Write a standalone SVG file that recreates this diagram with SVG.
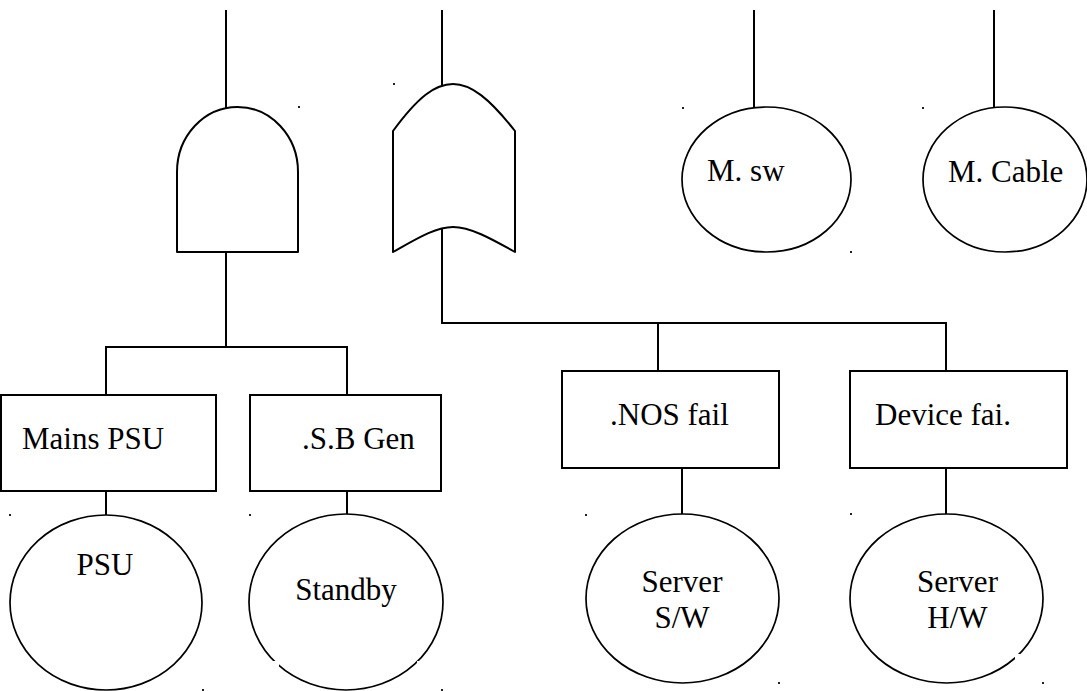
<svg xmlns="http://www.w3.org/2000/svg" width="1087" height="691" viewBox="0 0 1087 691">
  <style>
    .bg { fill: #ffffff; }
    .ln { fill: none; stroke: #000; stroke-width: 2; }
    .box { fill: #ffffff; stroke: #000; stroke-width: 2; }
    .gate { fill: #ffffff; stroke: #000; stroke-width: 2; stroke-linejoin: round; }
    .ev { fill: #ffffff; stroke: #000; stroke-width: 1.7; }
    .lbl { font-size: 31px; fill: #000; }
    .dot { fill: #222; }
    .gap { fill: #ffffff; }
  </style>
  <rect class="bg" x="0" y="0" width="1087" height="691"/>

  <!-- connectors -->
  <g id="connectors">
    <line class="ln" x1="226" y1="10" x2="226" y2="108"/>
    <line class="ln" x1="442" y1="10" x2="442" y2="85"/>
    <line class="ln" x1="754" y1="10" x2="754" y2="107"/>
    <line class="ln" x1="994" y1="10" x2="994" y2="107"/>
    <!-- AND gate fan-out -->
    <polyline class="ln" points="226,252 226,347"/>
    <polyline class="ln" points="106,395 106,347 347,347 347,395"/>
    <line class="ln" x1="106" y1="491" x2="106" y2="515"/>
    <line class="ln" x1="347" y1="491" x2="347" y2="515"/>
    <!-- OR gate fan-out -->
    <polyline class="ln" points="442,227 442,323 946,323 946,371"/>
    <line class="ln" x1="658" y1="323" x2="658" y2="371"/>
    <line class="ln" x1="682" y1="468" x2="682" y2="515"/>
    <line class="ln" x1="946" y1="468" x2="946" y2="515"/>
  </g>

  <!-- AND gate -->
  <g id="and-gate">
    <path class="gate" d="M177,252 V172 A60.5,65 0 0 1 298,172 V252 Z"/>
  </g>

  <!-- OR gate -->
  <g id="or-gate">
    <path class="gate" d="M393,131 C418,97 435,84 453,84 C471,84 489,98 515,131 V252 C490,238 470,227 453,227 C436,227 418,238 393,252 Z"/>
  </g>

  <g font-family="Liberation Serif, DejaVu Serif, serif">
    <!-- top-level basic events -->
    <g id="m-sw">
      <ellipse class="ev" cx="766.5" cy="179.5" rx="84.5" ry="72.5"/>
      <text class="lbl" x="707" y="181">M. sw</text>
    </g>
    <g id="m-cable">
      <ellipse class="ev" cx="1005" cy="179.5" rx="82" ry="72.5"/>
      <text class="lbl" x="948" y="182">M. Cable</text>
    </g>

    <!-- intermediate events -->
    <g id="mains-psu">
      <rect class="box" x="1" y="395" width="215" height="96"/>
      <text class="lbl" x="22" y="449">Mains PSU</text>
    </g>
    <g id="sb-gen">
      <rect class="box" x="250" y="395" width="191" height="96"/>
      <text class="lbl" x="302" y="449">.S.B Gen</text>
    </g>
    <g id="nos-fail">
      <rect class="box" x="562" y="371" width="217" height="97"/>
      <text class="lbl" x="610" y="425">.NOS fail</text>
    </g>
    <g id="device-fail">
      <rect class="box" x="850" y="371" width="217" height="97"/>
      <text class="lbl" x="875" y="425">Device fai.</text>
    </g>

    <!-- bottom basic events -->
    <g id="psu">
      <ellipse class="ev" cx="106" cy="602.5" rx="96" ry="87.5"/>
      <text class="lbl" x="105" y="575" text-anchor="middle">PSU</text>
    </g>
    <g id="standby">
      <ellipse class="ev" cx="346" cy="602" rx="97" ry="88"/>
      <rect class="gap" x="273" y="661" width="6" height="6"/>
      <rect class="gap" x="417" y="661" width="5" height="6"/>
      <text class="lbl" x="346" y="600" text-anchor="middle">Standby</text>
    </g>
    <g id="server-sw">
      <ellipse class="ev" cx="682.5" cy="598.5" rx="96.5" ry="84.5"/>
      <text class="lbl" x="682" y="592" text-anchor="middle">Server</text>
      <text class="lbl" x="682" y="628" text-anchor="middle">S/W</text>
    </g>
    <g id="server-hw">
      <ellipse class="ev" cx="946.5" cy="598.5" rx="96.5" ry="84.5"/>
      <rect class="gap" x="1015" y="654" width="5" height="5"/>
      <text class="lbl" x="957.5" y="592" text-anchor="middle">Server</text>
      <text class="lbl" x="957.5" y="628" text-anchor="middle">H/W</text>
    </g>
  </g>

  <!-- stray anchor marks -->
  <g id="marks">
    <rect class="dot" x="298" y="106" width="2" height="2"/>
    <rect class="dot" x="393" y="83" width="2" height="2"/>
    <rect class="dot" x="682" y="107" width="2" height="2"/>
    <rect class="dot" x="850" y="251" width="2" height="2"/>
    <rect class="dot" x="922" y="107" width="2" height="2"/>
    <rect class="dot" x="9" y="514" width="2" height="2"/>
    <rect class="dot" x="249" y="514" width="2" height="2"/>
    <rect class="dot" x="202" y="689" width="2" height="2"/>
    <rect class="dot" x="441" y="689" width="2" height="2"/>
    <rect class="dot" x="585" y="514" width="2" height="2"/>
    <rect class="dot" x="850" y="513" width="2" height="2"/>
    <rect class="dot" x="778" y="682" width="2" height="2"/>
    <rect class="dot" x="1042" y="682" width="2" height="2"/>
  </g>
</svg>
